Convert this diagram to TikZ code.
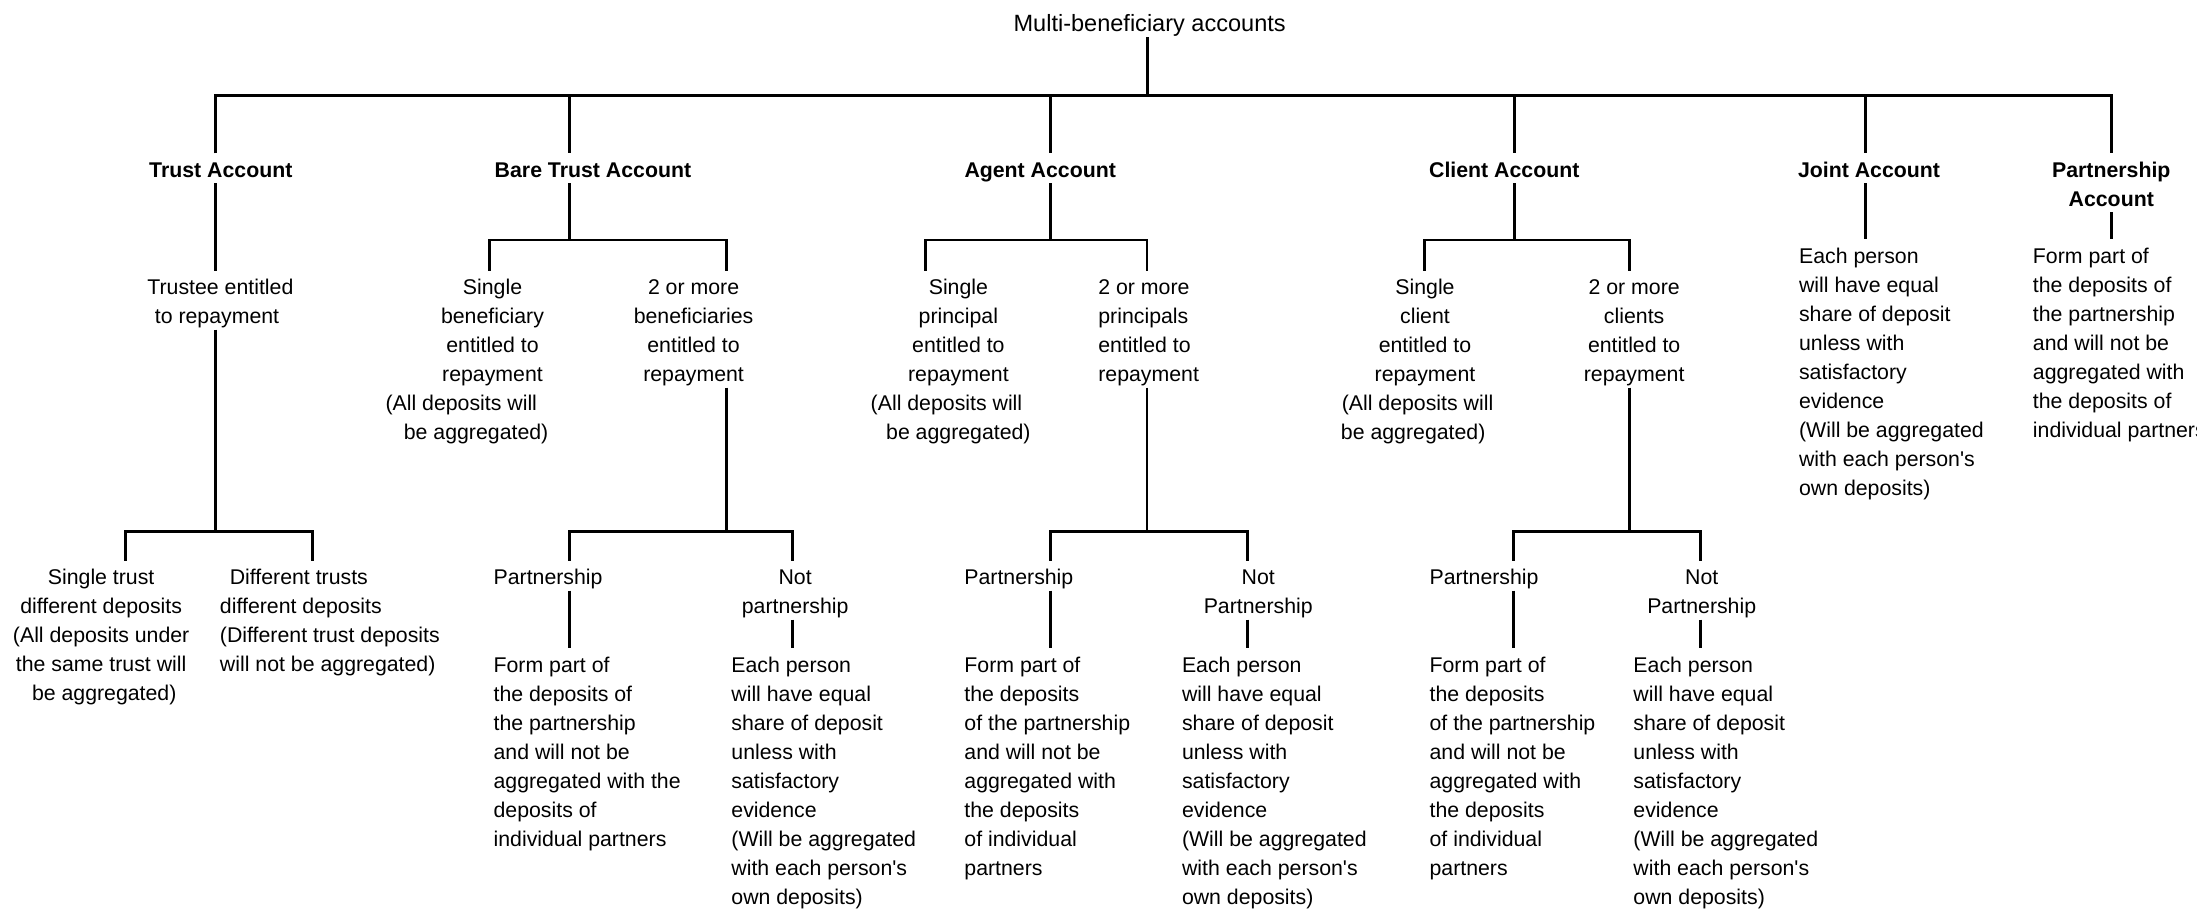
\documentclass[tikz,border=0pt]{standalone}
\usepackage{fontspec}
\setmainfont{Liberation Sans}
\newfontfamily\lsans{Liberation Sans}
\newcommand{\topst}{\rule{0pt}{17pt}}
\newcommand{\botst}{\rule[-4.3pt]{0pt}{4.3pt}}
\newcommand{\hgap}[1]{\hbox to #1{}}
\begin{document}
\begin{tikzpicture}[x=1pt,y=-1pt,
  conn/.style={line width=2.1pt},
  txt/.style={inner sep=0pt,outer sep=0pt,align=center,font=\lsans\fontsize{15.2}{20.7}\selectfont},
  txtl/.style={txt,align=left},
  hdr/.style={txt,font=\lsans\bfseries\fontsize{15.2}{20.7}\selectfont},
]
\useasboundingbox (0,0) rectangle (1568,649);

% ---------- title ----------
\node[txt,font=\lsans\fontsize{16.8}{20.7}\selectfont,anchor=south] (root) at (820.5,26.6) {Multi-beneficiary accounts\botst};

% ---------- level 1 ----------
\node[hdr,anchor=north] (trust)  at (157.6,109.5)  {\topst Trust Account\botst};
\node[hdr,anchor=north] (bare)   at (423.2,109.5)  {\topst Bare Trust Account\botst};
\node[hdr,anchor=north] (agent)  at (742.4,109.5)  {\topst Agent Account\botst};
\node[hdr,anchor=north] (client) at (1073.6,109.5) {\topst Client Account\botst};
\node[hdr,anchor=north] (joint)  at (1333.9,109.5) {\topst Joint Account\botst};
\node[hdr,anchor=north] (pacc)   at (1506.8,109.5) {\topst Partnership\\Account\botst};

% ---------- level 2 ----------
\node[txt,anchor=north] (trustee) at (157.3,193.3) {\topst Trustee entitled\\to repayment\hgap{4.8pt}\botst};
\node[txt,anchor=north] (bsingle) at (351.5,193.3) {\topst Single\\beneficiary\\entitled to\\repayment\\(All deposits will\hgap{44.6pt}\\be aggregated)\hgap{23.4pt}\botst};
\node[txt,anchor=north] (bmulti) at (495,193.3) {\topst 2 or more\\beneficiaries\\entitled to\\repayment\botst};
\node[txt,anchor=north] (asingle) at (684,193.3) {\topst Single\\principal\\entitled to\\repayment\\(All deposits will\hgap{17pt}\\be aggregated)\botst};
\node[txtl,anchor=north west] (amulti) at (783.9,193.3) {\topst 2 or more\\principals\\entitled to\\repayment\botst};
\node[txt,anchor=north] (csingle) at (1017,193.3) {\topst Single\\client\\entitled to\\repayment\\(All deposits will\hgap{10.6pt}\\be aggregated)\hgap{16.8pt}\botst};
\node[txt,anchor=north] (cmulti) at (1166.3,193.3) {\topst 2 or more\\clients\\entitled to\\repayment\botst};
\node[txtl,anchor=north west] (jbody) at (1284,170.7) {\topst Each person\\will have equal\\share of deposit\\unless with\\satisfactory\\evidence\\(Will be aggregated\\with each person's\\own deposits)\botst};
\node[txtl,anchor=north west] (pbody) at (1450.9,170.7) {\topst Form part of\\the deposits of\\the partnership\\and will not be\\aggregated with\\the deposits of\\individual partners\botst};

% ---------- level 3 ----------
\node[txt,anchor=north] (tsingle) at (72.2,400.3) {\topst Single trust\\different deposits\\(All deposits under\\the same trust will\\\hgap{4.4pt}be aggregated)\botst};
\node[txtl,anchor=north west] (tdiff) at (157,400.3) {\topst\hgap{7pt}Different trusts\\different deposits\\(Different trust deposits\\will not be aggregated)\botst};
\node[txtl,anchor=north west] (bpart) at (352.3,400.3) {\topst Partnership\botst};
\node[txt,anchor=north] (bnot) at (567.5,400.3) {\topst Not\\partnership\botst};
\node[txtl,anchor=north west] (apart) at (688.3,400.3) {\topst Partnership\botst};
\node[txt,anchor=north] (anot) at (898,400.3) {\topst Not\\Partnership\botst};
\node[txtl,anchor=north west] (cpart) at (1020.3,400.3) {\topst Partnership\botst};
\node[txt,anchor=north] (cnot) at (1214.5,400.3) {\topst Not\\Partnership\botst};

% ---------- level 4 ----------
\node[txtl,anchor=north west] (bform) at (352.3,462.6) {\topst Form part of\\the deposits of\\the partnership\\and will not be\\aggregated with the\\deposits of\\individual partners\botst};
\node[txtl,anchor=north west] (beach) at (522,462.6) {\topst Each person\\will have equal\\share of deposit\\unless with\\satisfactory\\evidence\\(Will be aggregated\\with each person's\\own deposits)\botst};
\node[txtl,anchor=north west] (aform) at (688.3,462.6) {\topst Form part of\\the deposits\\of the partnership\\and will not be\\aggregated with\\the deposits\\of individual\\partners\botst};
\node[txtl,anchor=north west] (aeach) at (843.6,462.6) {\topst Each person\\will have equal\\share of deposit\\unless with\\satisfactory\\evidence\\(Will be aggregated\\with each person's\\own deposits)\botst};
\node[txtl,anchor=north west] (cform) at (1020.3,462.6) {\topst Form part of\\the deposits\\of the partnership\\and will not be\\aggregated with\\the deposits\\of individual\\partners\botst};
\node[txtl,anchor=north west] (ceach) at (1165.8,462.6) {\topst Each person\\will have equal\\share of deposit\\unless with\\satisfactory\\evidence\\(Will be aggregated\\with each person's\\own deposits)\botst};

% ---------- junction coordinates ----------
\coordinate (j0) at (818.7,68.3);
\coordinate (j1) at (153.9,68.3);
\coordinate (j2) at (406.5,68.3);
\coordinate (j3) at (750,68.3);
\coordinate (j4) at (1080.8,68.3);
\coordinate (j5) at (1331.2,68.3);
\coordinate (j6) at (1506.7,68.3);

\coordinate (k2) at (406.5,171.3);  \coordinate (k2l) at (349.3,171.3); \coordinate (k2r) at (518.7,171.3);
\coordinate (k3) at (750,171.3);    \coordinate (k3l) at (660.8,171.3); \coordinate (k3r) at (818.6,171.3);
\coordinate (k4) at (1080.8,171.3); \coordinate (k4l) at (1016.7,171.3); \coordinate (k4r) at (1162.9,171.3);

\coordinate (m1) at (153.9,379.5); \coordinate (m1l) at (89.3,379.5);  \coordinate (m1r) at (223.3,379.5);
\coordinate (m2) at (518.7,379.5); \coordinate (m2l) at (406.5,379.5); \coordinate (m2r) at (565.5,379.5);
\coordinate (m3) at (818.6,379.5); \coordinate (m3l) at (750,379.5);   \coordinate (m3r) at (890,379.5);
\coordinate (m4) at (1162.9,379.5); \coordinate (m4l) at (1080.5,379.5); \coordinate (m4r) at (1213.7,379.5);

% ---------- connectors ----------
\draw[conn] (root.south -| j0) -- (j0);
\draw[conn] (j1 |- trust.north) -- (j1) -- (j6) -- (j6 |- pacc.north);
\draw[conn] (j2) -- (j2 |- bare.north);
\draw[conn] (j3) -- (j3 |- agent.north);
\draw[conn] (j4) -- (j4 |- client.north);
\draw[conn] (j5) -- (j5 |- joint.north);

\draw[conn] (trust.south -| j1) -- (trustee.north -| j1);
\draw[conn] (bare.south -| k2) -- (k2);
\draw[conn] (k2l |- bsingle.north) -- (k2l) -- (k2r) -- (k2r |- bmulti.north);
\draw[conn] (agent.south -| k3) -- (k3);
\draw[conn] (k3l |- asingle.north) -- (k3l) -- (k3r) -- (k3r |- amulti.north);
\draw[conn] (client.south -| k4) -- (k4);
\draw[conn] (k4l |- csingle.north) -- (k4l) -- (k4r) -- (k4r |- cmulti.north);
\draw[conn] (joint.south -| j5) -- (jbody.north -| j5);
\draw[conn] (pacc.south -| j6) -- (pbody.north -| j6);

\draw[conn] (trustee.south -| m1) -- (m1);
\draw[conn] (m1l |- tsingle.north) -- (m1l) -- (m1r) -- (m1r |- tdiff.north);
\draw[conn] (bmulti.south -| m2) -- (m2);
\draw[conn] (m2l |- bpart.north) -- (m2l) -- (m2r) -- (m2r |- bnot.north);
\draw[conn] (amulti.south -| m3) -- (m3);
\draw[conn] (m3l |- apart.north) -- (m3l) -- (m3r) -- (m3r |- anot.north);
\draw[conn] (cmulti.south -| m4) -- (m4);
\draw[conn] (m4l |- cpart.north) -- (m4l) -- (m4r) -- (m4r |- cnot.north);

\draw[conn] (bpart.south -| m2l) -- (bform.north -| m2l);
\draw[conn] (bnot.south -| m2r) -- (beach.north -| m2r);
\draw[conn] (apart.south -| m3l) -- (aform.north -| m3l);
\draw[conn] (anot.south -| m3r) -- (aeach.north -| m3r);
\draw[conn] (cpart.south -| m4l) -- (cform.north -| m4l);
\draw[conn] (cnot.south -| m4r) -- (ceach.north -| m4r);
\end{tikzpicture}
\end{document}
